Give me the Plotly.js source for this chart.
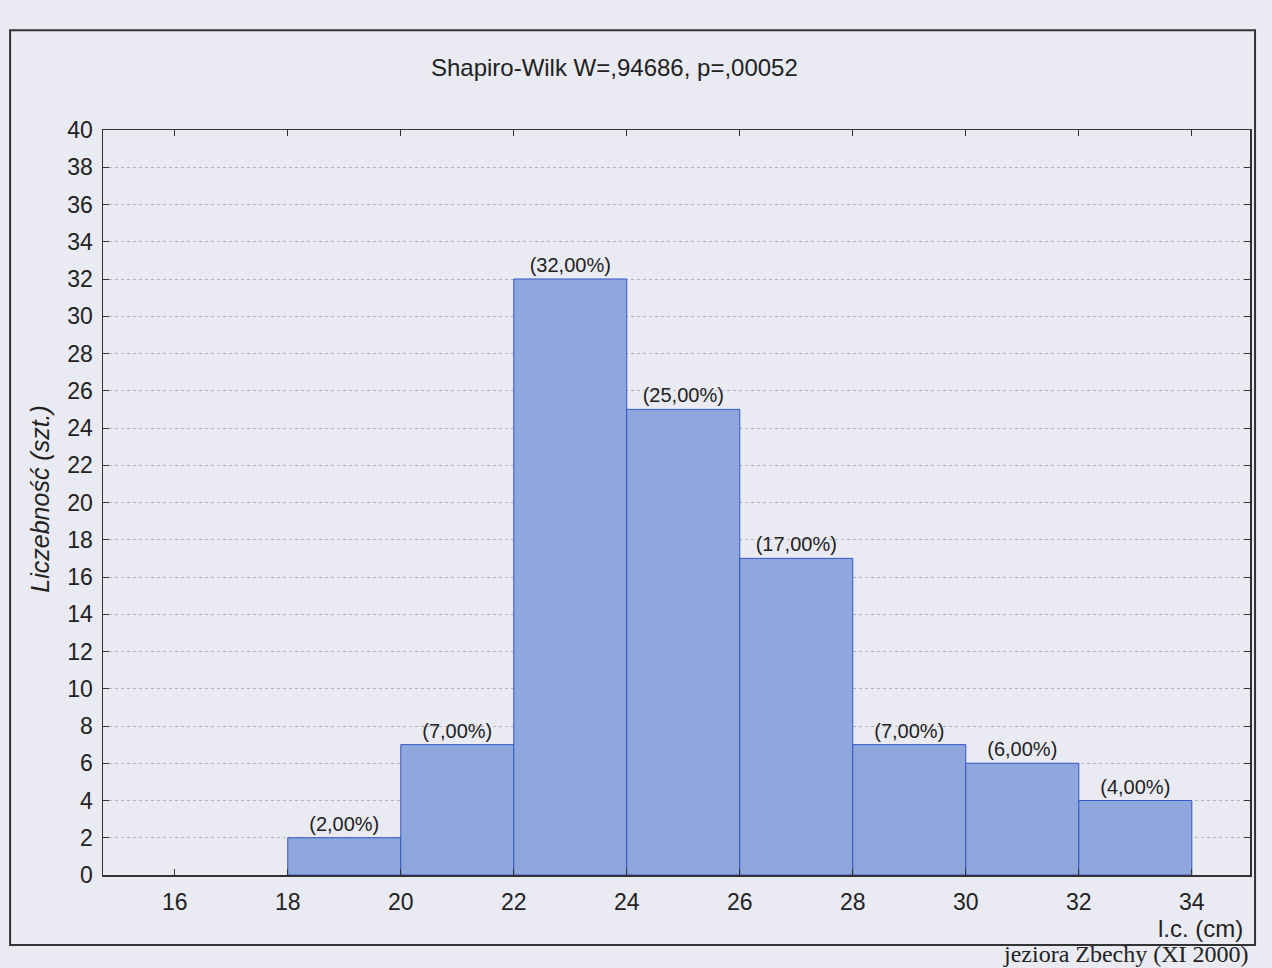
<!DOCTYPE html>
<html>
<head>
<meta charset="utf-8">
<script src="https://cdn.plot.ly/plotly-3.0.1.min.js"></script>
<style>html,body{margin:0;padding:0;background:#e9eaf2;}#chart{width:1272px;height:968px;}</style>
</head>
<body>
<div id="chart"></div>
<script>
// Data
const binEdges = [18, 20, 22, 24, 26, 28, 30, 32, 34];
const counts = [2, 7, 32, 25, 17, 7, 6, 4];
const pctLabels = ["(2,00%)", "(7,00%)", "(32,00%)", "(25,00%)", "(17,00%)", "(7,00%)", "(6,00%)", "(4,00%)"];
const xTicks = [16, 18, 20, 22, 24, 26, 28, 30, 32, 34];
const yTicks = [0, 2, 4, 6, 8, 10, 12, 14, 16, 18, 20, 22, 24, 26, 28, 30, 32, 34, 36, 38, 40];

const centers = counts.map((c, i) => (binEdges[i] + binEdges[i + 1]) / 2);
const widths = counts.map((c, i) => binEdges[i + 1] - binEdges[i]);

const F = 'Liberation Sans, Arial, sans-serif';
const trace = {
  type: 'bar',
  x: centers,
  y: counts,
  width: widths,
  text: pctLabels,
  textposition: 'outside',
  cliponaxis: false,
  textfont: {family: F, size: 20, color: '#222'},
  marker: {color: '#8fa7dd', line: {color: '#3556c4', width: 1}},
  hoverinfo: 'x+y'
};

const layout = {
  width: 1272, height: 968,
  margin: {l: 103, r: 22, t: 130, b: 93},
  paper_bgcolor: '#e9eaf2',
  plot_bgcolor: '#e9eaf2',
  showlegend: false,
  title: {text: 'Shapiro-Wilk W=,94686, p=,00052', font: {family: F, size: 24, color: '#222'}, x: 0.483, xanchor: 'center', y: 0.93, yanchor: 'middle'},
  xaxis: {
    range: [14.73, 35.03], tickvals: xTicks, ticktext: xTicks.map(String),
    showgrid: false, zeroline: false,
    showline: true, linecolor: '#333', linewidth: 1.5, mirror: 'ticks',
    ticks: 'inside', ticklen: 6, tickcolor: '#333',
    tickfont: {family: F, size: 23, color: '#222'},
    ticklabelstandoff: 6,
    title: {text: ''}
  },
  yaxis: {
    range: [0, 40], tickvals: yTicks, ticktext: yTicks.map(String),
    showgrid: true, gridcolor: '#b3b3be', griddash: 'dot', gridwidth: 1,
    zeroline: false,
    showline: true, linecolor: '#333', linewidth: 1.5, mirror: 'ticks',
    ticks: 'inside', ticklen: 6, tickcolor: '#333',
    tickfont: {family: F, size: 23, color: '#222'},
    ticklabelstandoff: 4,
    title: {text: ''}
  },
  annotations: [
    {text: '<i>Liczebność (szt.)</i>', xref: 'paper', yref: 'paper', x: -0.055, y: 0.505, textangle: -90,
     showarrow: false, font: {family: F, size: 25, color: '#222'}, xanchor: 'center', yanchor: 'middle'},
    {text: 'l.c. (cm)', xref: 'paper', yref: 'paper', x: 0.996, y: -0.072, showarrow: false,
     font: {family: F, size: 24, color: '#222'}, xanchor: 'right', yanchor: 'middle'},
    {text: 'jeziora Zbechy (XI 2000)', xref: 'paper', yref: 'paper', x: 1.0, y: -0.1248, showarrow: false, borderpad: 0,
     font: {family: 'Liberation Serif, Times New Roman, serif', size: 24, color: '#222'}, xanchor: 'right', yanchor: 'bottom'}
  ],
  shapes: [
    {type: 'rect', xref: 'paper', yref: 'paper', x0: -0.081, x1: 1.0044, y0: -0.094, y1: 1.134,
     line: {color: '#333', width: 2}, fillcolor: 'rgba(0,0,0,0)', layer: 'below'}
  ]
};

Plotly.newPlot('chart', [trace], layout, {displayModeBar: false, staticPlot: true});
</script>
</body>
</html>
